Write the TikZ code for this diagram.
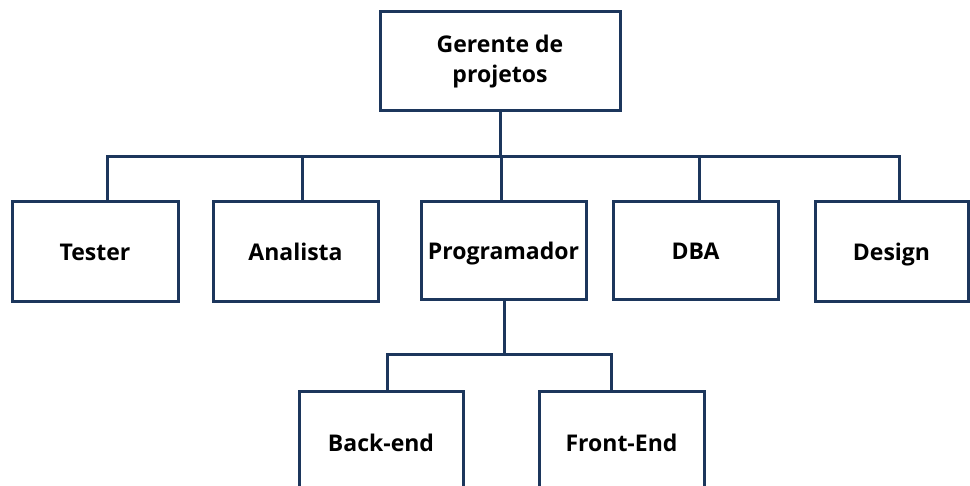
\documentclass[tikz,border=0pt]{standalone}
\usepackage{fontspec}
\setmainfont{Open Sans}
\definecolor{navy}{RGB}{28,54,92}
\begin{document}
\begin{tikzpicture}[x=1pt,y=-1pt,
  box/.style={draw=navy,line width=3pt,fill=white,inner sep=0pt,align=center,
    font=\fontsize{23}{30}\selectfont\bfseries},
  one/.style={box,text height=24pt,text depth=6pt},
  link/.style={draw=navy,line width=3pt,line join=miter}]
\clip (0,0) rectangle (970,486);
\useasboundingbox (0,0) rectangle (970,486);
\node[box,minimum width=240pt,minimum height=99pt] (gp) at (500,61.5) {Gerente de\\projetos};
\node[one,minimum width=166pt,minimum height=100pt] (tester) at (95,252) {Tester};
\node[one,minimum width=165pt,minimum height=100pt] (analista) at (295.5,252) {Analista};
\node[one,minimum width=165pt,minimum height=98pt] (prog) at (503.5,251) {Programador};
\node[one,minimum width=165pt,minimum height=98pt] (dba) at (695.5,251) {DBA};
\node[one,minimum width=153pt,minimum height=100pt] (design) at (891.5,252) {Design};
\node[one,minimum width=164pt,minimum height=102pt] (back) at (381,443) {Back-end};
\node[one,minimum width=165pt,minimum height=102pt] (front) at (621.5,443) {Front-End};
\coordinate (dT) at (107,157);
\coordinate (dA) at (302,157);
\coordinate (dP) at (501,157);
\coordinate (dD) at (699,157);
\coordinate (dG) at (899,157);
\coordinate (top) at (500,157);
\coordinate (bB) at (387,355);
\coordinate (bF) at (611,355);
\coordinate (bP) at (504,355);
\draw[link] (tester.north -| dT) -- (dT) -- (dG) -- (design.north -| dG);
\draw[link] (gp.south) -- (top);
\draw[link] (dA) -- (analista.north -| dA);
\draw[link] (dP) -- (prog.north -| dP);
\draw[link] (dD) -- (dba.north -| dD);
\draw[link] (prog.south -| bP) -- (bP);
\draw[link] (back.north -| bB) -- (bB) -- (bF) -- (front.north -| bF);
\end{tikzpicture}
\end{document}
